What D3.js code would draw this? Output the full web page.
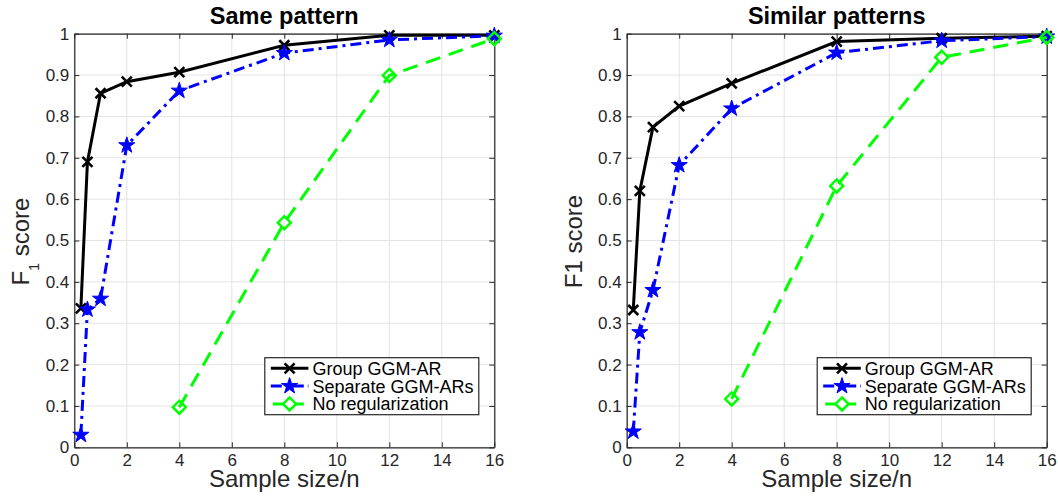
<!DOCTYPE html>
<html>
<head>
<meta charset="utf-8">
<script src="https://cdn.jsdelivr.net/npm/d3@7"></script>
<style>
  html, body { margin: 0; padding: 0; background: #ffffff; }
  svg { display: block; font-family: "Liberation Sans", Arial, Helvetica, sans-serif; }
</style>
</head>
<body>
<svg id="chart" width="1058" height="497"></svg>
<script>
// Sample sizes (relative to n) at which each method was evaluated
const sampleSizes = [0.25, 0.5, 1, 2, 4, 8, 12, 16];
const noRegSizes = [4, 8, 12, 16];

// F1 scores, "Same pattern" experiment
const sameGroup    = [0.336, 0.690, 0.856, 0.884, 0.907, 0.972, 0.996, 0.996];
const sameSeparate = [0.030, 0.333, 0.359, 0.730, 0.862, 0.953, 0.985, 0.995];
const sameNoReg    = [0.097, 0.543, 0.899, 0.988];

// F1 scores, "Similar patterns" experiment
const simGroup    = [0.332, 0.620, 0.774, 0.825, 0.880, 0.981, 0.989, 0.994];
const simSeparate = [0.038, 0.278, 0.380, 0.682, 0.819, 0.954, 0.983, 0.993];
const simNoReg    = [0.117, 0.632, 0.943, 0.991];

// Axis ticks and labels
const xTicks = [0, 2, 4, 6, 8, 10, 12, 14, 16];
const yTicks = [0, 0.1, 0.2, 0.3, 0.4, 0.5, 0.6, 0.7, 0.8, 0.9, 1];
const yTickLabels = ["0", "0.1", "0.2", "0.3", "0.4", "0.5", "0.6", "0.7", "0.8", "0.9", "1"];
const seriesNames = ["Group GGM-AR", "Separate GGM-ARs", "No regularization"];
const panelTitles = ["Same pattern", "Similar patterns"];
const xLabel = "Sample size/n";

const svg = d3.select("#chart");
const AXIS = "#262626";
const GRID = "#e3e3e3";

// Marker shapes
function starPath(r) {
  const ri = r * 0.382;
  let p = "";
  for (let i = 0; i < 10; i++) {
    const a = -Math.PI / 2 + i * Math.PI / 5;
    const rr = i % 2 ? ri : r;
    p += (i ? "L" : "M") + (rr * Math.cos(a)).toFixed(2) + "," + (rr * Math.sin(a)).toFixed(2);
  }
  return p + "Z";
}
const crossPath = "M-5,-5L5,5M-5,5L5,-5";
const diamondPath = "M0,-6.5L6.5,0L0,6.5L-6.5,0Z";

const styles = [
  { color: "#000000", dash: null,         marker: crossPath,     fill: "none",    mstroke: 2.6 },
  { color: "#0000ff", dash: "11,5,3,5",   marker: starPath(8.5), fill: "#0000ff", mstroke: 1 },
  { color: "#00ff00", dash: "15,9",       marker: diamondPath,   fill: "none",    mstroke: 2.5 }
];

const panels = [
  { left: 74.3,  title: panelTitles[0], subscriptLabel: true,
    series: [[sampleSizes, sameGroup], [sampleSizes, sameSeparate], [noRegSizes, sameNoReg]] },
  { left: 626.7, title: panelTitles[1], subscriptLabel: false,
    series: [[sampleSizes, simGroup], [sampleSizes, simSeparate], [noRegSizes, simNoReg]] }
];

const plotW = 420, plotTop = 33.7, plotBottom = 447.3;

panels.forEach(panel => {
  const x = d3.scaleLinear().domain([0, 16]).range([panel.left, panel.left + plotW]);
  const y = d3.scaleLinear().domain([0, 1]).range([plotBottom, plotTop]);
  const g = svg.append("g");

  // grid
  g.append("g").selectAll("line").data(xTicks).join("line")
    .attr("x1", d => x(d)).attr("x2", d => x(d)).attr("y1", plotTop).attr("y2", plotBottom)
    .attr("stroke", GRID).attr("stroke-width", 1);
  g.append("g").selectAll("line").data(yTicks).join("line")
    .attr("x1", x(0)).attr("x2", x(16)).attr("y1", d => y(d)).attr("y2", d => y(d))
    .attr("stroke", GRID).attr("stroke-width", 1);

  // axes (ticks pointing inward on all four sides)
  const styleAxis = sel => {
    sel.select(".domain").attr("stroke", AXIS).attr("stroke-width", 1.2);
    sel.selectAll(".tick line").attr("stroke", AXIS).attr("stroke-width", 1);
    sel.selectAll(".tick text").attr("fill", AXIS).style("font-size", "17px")
      .style("font-family", "\"Liberation Sans\", Arial, sans-serif");
  };
  g.append("g").attr("transform", `translate(0,${plotBottom})`)
    .call(d3.axisBottom(x).tickValues(xTicks).tickSizeInner(-5).tickSizeOuter(0).tickPadding(7).tickFormat(d3.format("d")))
    .call(styleAxis);
  g.append("g").attr("transform", `translate(${x(0)},0)`)
    .call(d3.axisLeft(y).tickValues(yTicks).tickSizeInner(-5).tickSizeOuter(0).tickPadding(5)
      .tickFormat((d, i) => yTickLabels[i]))
    .call(styleAxis);
  g.append("g").attr("transform", `translate(0,${plotTop})`)
    .call(d3.axisTop(x).tickValues(xTicks).tickSizeInner(-5).tickSizeOuter(0).tickFormat(""))
    .call(styleAxis);
  g.append("g").attr("transform", `translate(${x(16)},0)`)
    .call(d3.axisRight(y).tickValues(yTicks).tickSizeInner(-5).tickSizeOuter(0).tickFormat(""))
    .call(styleAxis);

  // series: line then markers, in drawing order
  panel.series.forEach(([xs, ys], si) => {
    const st = styles[si];
    const pts = xs.map((v, i) => [v, ys[i]]);
    g.append("path")
      .attr("d", d3.line().x(d => x(d[0])).y(d => y(d[1]))(pts))
      .attr("fill", "none").attr("stroke", st.color).attr("stroke-width", 3)
      .attr("stroke-dasharray", st.dash).attr("stroke-linejoin", "miter");
    g.append("g").selectAll("path").data(pts).join("path")
      .attr("transform", d => `translate(${x(d[0])},${y(d[1])})`)
      .attr("d", st.marker)
      .attr("fill", st.fill).attr("stroke", st.color).attr("stroke-width", st.mstroke);
  });

  // title
  const cx = panel.left + plotW / 2;
  g.append("text").attr("x", cx).attr("y", 23.5).attr("text-anchor", "middle")
    .attr("font-weight", "bold").attr("font-size", "23.5px").attr("fill", "#000")
    .text(panel.title);

  // x label
  g.append("text").attr("x", cx).attr("y", 487).attr("text-anchor", "middle")
    .attr("font-size", "24px").attr("fill", AXIS).text(xLabel);

  // y label
  const yl = g.append("text")
    .attr("transform", `translate(${panel.left - 45},${(plotTop + plotBottom) / 2 + 1}) rotate(-90)`)
    .attr("text-anchor", "middle").attr("font-size", "24px").attr("fill", AXIS);
  if (panel.subscriptLabel) {
    yl.append("tspan").text("F");
    yl.append("tspan").attr("dy", 10).attr("font-size", "14px").text("1");
    yl.append("tspan").attr("dy", -10).text("\u00a0score");
  } else {
    yl.text("F1 score");
  }

  // legend
  const lw = 214, lh = 57;
  const lx = x(16) - 15.5 - lw, ly = 357.7;
  const lg = g.append("g").attr("transform", `translate(${lx},${ly})`);
  lg.append("rect").attr("width", lw).attr("height", lh)
    .attr("fill", "#ffffff").attr("stroke", AXIS).attr("stroke-width", 1.2);
  seriesNames.forEach((name, i) => {
    const st = styles[i];
    const ry = 10.6 + i * 17.8;
    lg.append("line").attr("x1", 6).attr("x2", 43.6).attr("y1", ry).attr("y2", ry)
      .attr("stroke", st.color).attr("stroke-width", 3)
      .attr("stroke-dasharray", st.dash ? (i === 1 ? "11,4,3,4" : "12,7") : null)
      .attr("stroke-dashoffset", i === 2 ? -2 : 0);
    lg.append("path").attr("transform", `translate(24.8,${ry})`).attr("d", st.marker)
      .attr("fill", st.fill === "none" ? "#ffffff" : st.fill)
      .attr("stroke", st.color).attr("stroke-width", st.mstroke);
    lg.append("text").attr("x", 47.6).attr("y", ry + 6.5)
      .attr("font-size", "18px").attr("fill", "#000").text(name);
  });
});
</script>
</body>
</html>
